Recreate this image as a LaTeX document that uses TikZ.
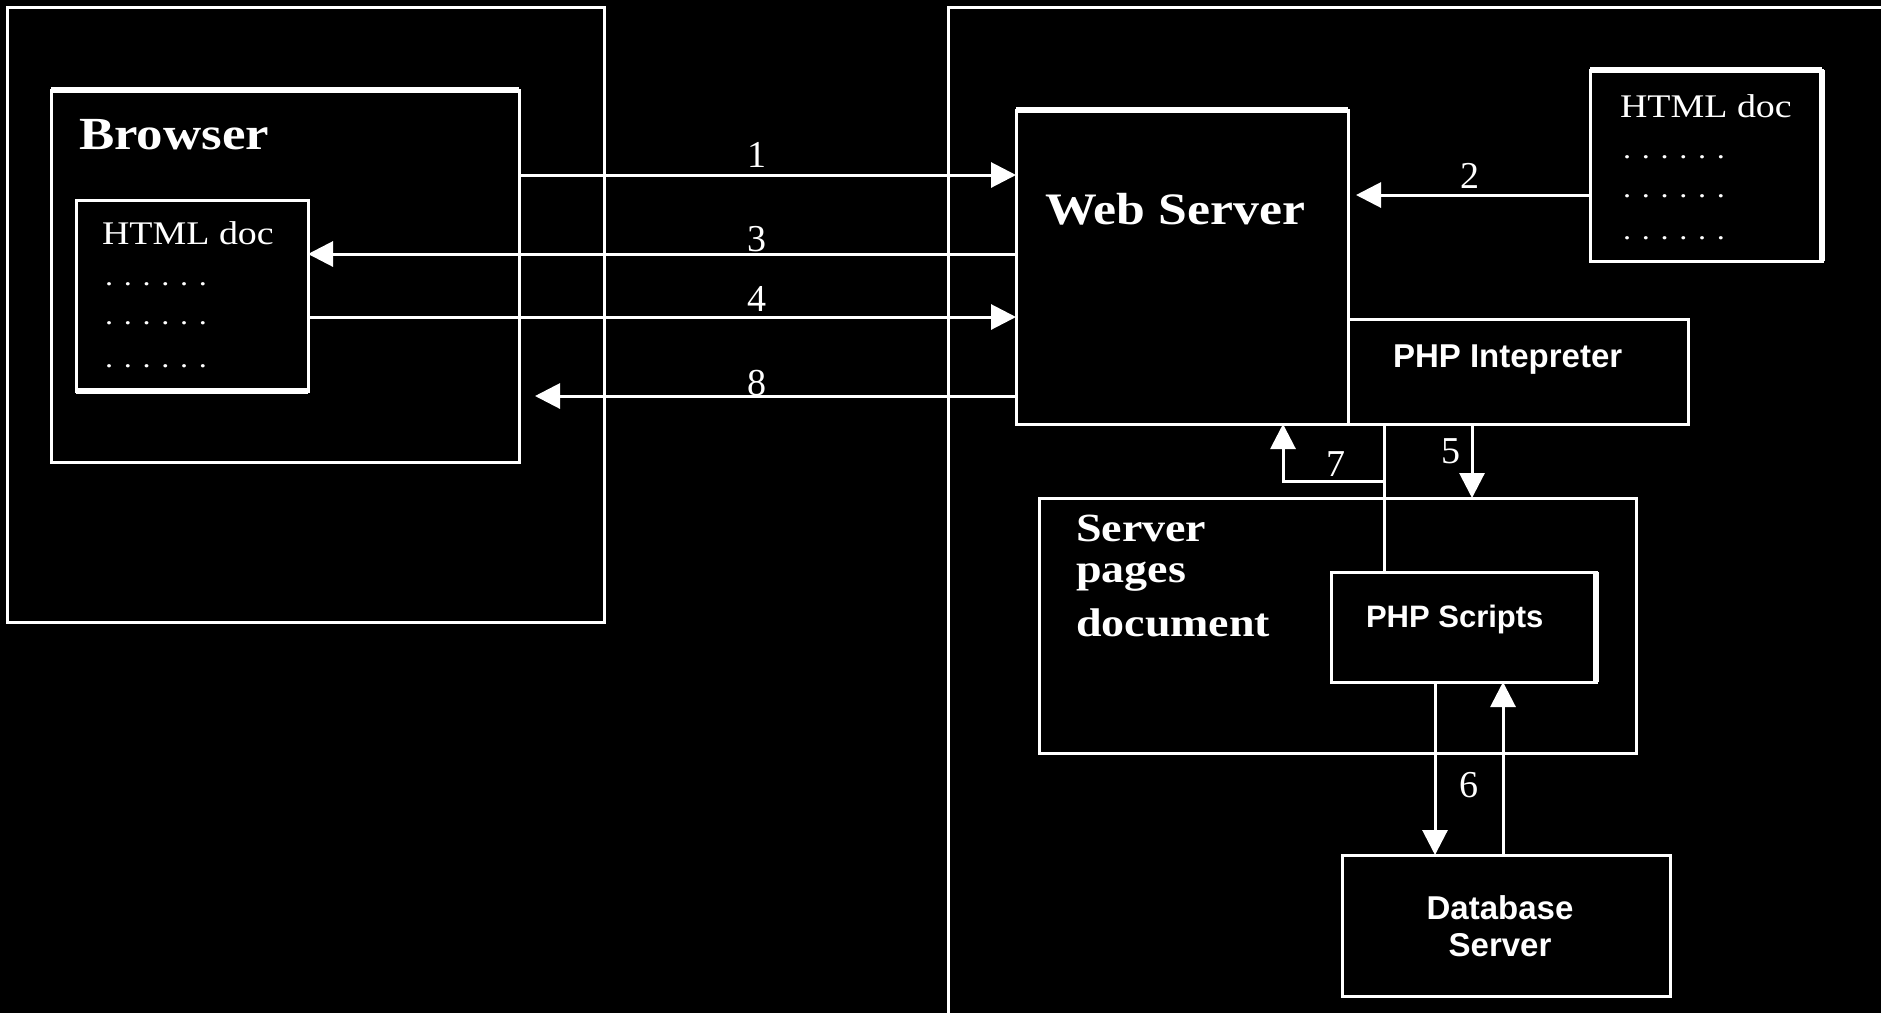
\documentclass[tikz,border=0pt]{standalone}
\usepackage{fontspec}
\usetikzlibrary{arrows.meta}
\newfontfamily\bserif[FakeStretch=1.15]{Liberation Serif}
\newfontfamily\pserif{Liberation Serif}
\newfontfamily\bsans{Liberation Sans}
\begin{document}
\begin{tikzpicture}[x=1pt,y=-1pt,
  box/.style={draw=white, line width=3pt, inner sep=0pt, outer sep=0pt, anchor=north west},
  thick edge/.style={draw=white, line width=5.5pt},
  wire/.style={draw=white, line width=3pt},
  arr/.style={draw=white, line width=3pt, -{Triangle[length=25pt,width=25pt]}},
  txt/.style={text=white, inner sep=0pt, outer sep=0pt},
  num/.style={txt, font=\pserif\fontsize{38}{38}\selectfont, anchor=base},
  dots/.style={txt, font=\bserif\fontsize{28}{28}\selectfont, anchor=base west}]
\fill[black] (0,0) rectangle (1881,1013);
\useasboundingbox (0,0) rectangle (1881,1013);

% outer regions
\node[box, minimum width=597pt, minimum height=615pt] (outl) at (7,7) {};
\draw[wire] (948,1013) -- (948,7) -- (1881,7);

% boxes
\node[box, minimum width=468pt, minimum height=372pt] (brw) at (51,90) {};
\node[box, minimum width=232pt, minimum height=191pt] (htmlL) at (76,200) {};
\node[box, minimum width=332pt, minimum height=314pt] (ws) at (1016,110) {};
\node[box, minimum width=232pt, minimum height=191pt] (htmlR) at (1590,70) {};
\node[box, minimum width=340pt, minimum height=105pt] (php) at (1348,319) {};
\node[box, minimum width=597pt, minimum height=255pt] (spd) at (1039,498) {};
\node[box, minimum width=265pt, minimum height=110pt] (scr) at (1331,572) {};
\node[box, minimum width=328pt, minimum height=141pt] (db) at (1342,855) {};

% thicker edges
\draw[thick edge] (brw.north west) -- (brw.north east);
\draw[thick edge] (htmlL.south west) -- (htmlL.south east);
\draw[thick edge] (ws.north west) -- (ws.north east);
\draw[thick edge] (htmlR.north west) -- (htmlR.north east);
\draw[thick edge] (htmlR.north east) -- (htmlR.south east);
\draw[thick edge] (scr.north east) -- (scr.south east);

% texts
\node[txt, font=\bserif\bfseries\fontsize{46}{46}\selectfont, anchor=base west] (tbrw) at (79,149) {Browser};
\node[txt, font=\bserif\fontsize{33}{33}\selectfont, anchor=base west] (thl) at (102,244) {HTML doc};
\node[dots] (dl1) at (105,285) {. . . . . .};
\node[dots] (dl2) at (105,324) {. . . . . .};
\node[dots] (dl3) at (105,367) {. . . . . .};
\node[txt, font=\bserif\bfseries\fontsize{45}{45}\selectfont, anchor=base west] (tws) at (1045,224) {Web Server};
\node[txt, font=\bserif\fontsize{33}{33}\selectfont, anchor=base west] (thr) at (1620,117) {HTML doc};
\node[dots] (dr1) at (1623,158) {. . . . . .};
\node[dots] (dr2) at (1623,197) {. . . . . .};
\node[dots] (dr3) at (1623,239) {. . . . . .};
\node[txt, font=\bsans\bfseries\fontsize{33}{33}\selectfont, anchor=base west] (tphp) at (1393,367) {PHP Intepreter};
\node[txt, font=\bserif\bfseries\fontsize{40}{41}\selectfont, align=left, anchor=base west] (tspd) at (1076,636) {Server\\pages\\[13pt]document};
\node[txt, font=\bsans\bfseries\fontsize{31}{31}\selectfont, anchor=base west] (tscr) at (1366,627) {PHP Scripts};
\node[txt, font=\bsans\bfseries\fontsize{33}{37}\selectfont, align=center, anchor=base] (tdb) at (1500,956) {Database\\Server};

% connectors
\coordinate (y1) at (0,175);
\coordinate (y2) at (0,195);
\coordinate (y3) at (0,254);
\coordinate (y4) at (0,317);
\coordinate (e8) at (535,396);
\draw[arr] (brw.east |- y1) -- (ws.west |- y1);
\draw[arr] (ws.west |- y3) -- (htmlL.east |- y3);
\draw[arr] (htmlL.east |- y4) -- (ws.west |- y4);
\draw[arr] (ws.west |- e8) -- (e8);
\draw[arr, shorten >=8pt] (htmlR.west |- y2) -- (ws.east |- y2);

\coordinate (xT) at (1384,0);
\coordinate (j7) at (1384,481);
\coordinate (x7) at (1283,481);
\coordinate (x5) at (1472,0);
\coordinate (x6a) at (1435,0);
\coordinate (x6b) at (1503,0);
\draw[wire] (php.south -| xT) -- (scr.north -| xT);
\draw[arr] (j7) -- (x7) -- (x7 |- ws.south);
\draw[arr] (php.south -| x5) -- (spd.north -| x5);
\draw[arr] (scr.south -| x6a) -- (db.north -| x6a);
\draw[arr] (db.north -| x6b) -- (scr.south -| x6b);

% labels
\node[num] (l1) at (757,167) {1};
\node[num] (l2) at (1470,188) {2};
\node[num] (l3) at (757,251) {3};
\node[num] (l4) at (757,311) {4};
\node[num] (l5) at (1451,463) {5};
\node[num] (l6) at (1469,797) {6};
\node[num] (l7) at (1336,476) {7};
\node[num] (l8) at (757,395) {8};
\end{tikzpicture}
\end{document}
